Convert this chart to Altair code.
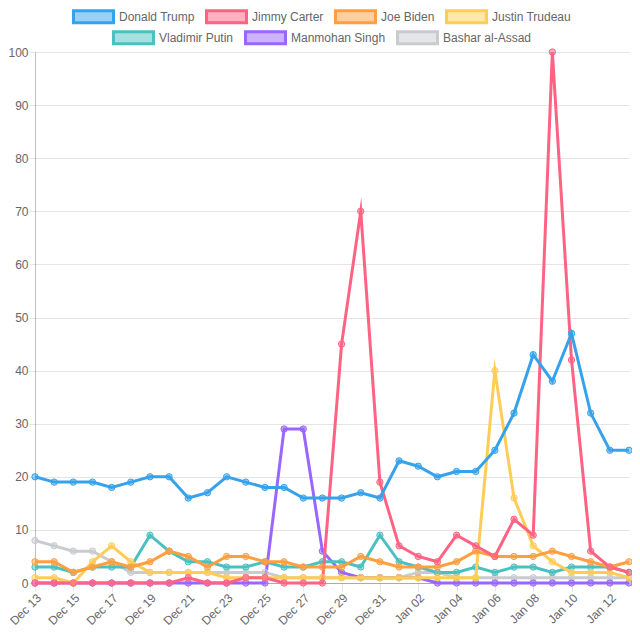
import altair as alt
import pandas as pd

dates = ["Dec 13", "Dec 14", "Dec 15", "Dec 16", "Dec 17", "Dec 18", "Dec 19", "Dec 20",
         "Dec 21", "Dec 22", "Dec 23", "Dec 24", "Dec 25", "Dec 26", "Dec 27", "Dec 28",
         "Dec 29", "Dec 30", "Dec 31", "Jan 01", "Jan 02", "Jan 03", "Jan 04", "Jan 05",
         "Jan 06", "Jan 07", "Jan 08", "Jan 09", "Jan 10", "Jan 11", "Jan 12", "Jan 13"]

trump = [20, 19, 19, 19, 18, 19, 20, 20, 16, 17, 20, 19, 18, 18, 16, 16,
         16, 17, 16, 23, 22, 20, 21, 21, 25, 32, 43, 38, 47, 32, 25, 25]
carter = [0, 0, 0, 0, 0, 0, 0, 0, 1, 0, 0, 1, 1, 0, 0, 0,
          45, 70, 19, 7, 5, 4, 9, 7, 5, 12, 9, 100, 42, 6, 3, 2]
biden = [4, 4, 2, 3, 4, 3, 4, 6, 5, 3, 5, 5, 4, 4, 3, 3,
         3, 5, 4, 3, 3, 3, 4, 6, 5, 5, 5, 6, 5, 4, 3, 4]
trudeau = [1, 1, 0, 4, 7, 4, 2, 2, 2, 2, 1, 1, 1, 1, 1, 1,
           1, 1, 1, 1, 1, 1, 1, 1, 40, 16, 7, 4, 2, 2, 2, 1]
putin = [3, 3, 2, 3, 3, 3, 9, 6, 4, 4, 3, 3, 4, 3, 3, 4,
         4, 3, 9, 4, 3, 2, 2, 3, 2, 3, 3, 2, 3, 3, 3, 2]
singh = [0, 0, 0, 0, 0, 0, 0, 0, 0, 0, 0, 0, 0, 29, 29, 6,
         2, 1, 1, 1, 1, 0, 0, 0, 0, 0, 0, 0, 0, 0, 0, 0]
assad = [8, 7, 6, 6, 4, 2, 2, 2, 2, 2, 2, 2, 2, 1, 1, 1,
         1, 1, 1, 1, 2, 2, 1, 1, 1, 1, 1, 1, 1, 1, 1, 1]

series_a = ["Donald Trump", "Jimmy Carter", "Joe Biden", "Justin Trudeau"]
colors_a = ["rgb(54,162,235)", "rgb(255,99,132)", "rgb(255,159,64)", "rgb(255,205,86)"]
fills_a = ["rgba(54,162,235,0.5)", "rgba(255,99,132,0.5)", "rgba(255,159,64,0.5)", "rgba(255,205,86,0.5)"]
series_b = ["Vladimir Putin", "Manmohan Singh", "Bashar al-Assad"]
colors_b = ["rgb(75,192,192)", "rgb(153,102,255)", "rgb(201,203,207)"]
fills_b = ["rgba(75,192,192,0.5)", "rgba(153,102,255,0.5)", "rgba(201,203,207,0.5)"]

values = {
    "Donald Trump": trump, "Jimmy Carter": carter, "Joe Biden": biden,
    "Justin Trudeau": trudeau, "Vladimir Putin": putin,
    "Manmohan Singh": singh, "Bashar al-Assad": assad,
}

FONT = "Liberation Sans"
BOX = "M-1,-0.3H1V0.3H-1Z"


def frame(names):
    rows = []
    for name in reversed(names):
        for i, (d, v) in enumerate(zip(dates, values[name])):
            rows.append({"idx": i, "date": d, "name": name, "value": v})
    return pd.DataFrame(rows)


x_enc = alt.X(
    "date:O",
    scale=alt.Scale(type="point", padding=0, domain=dates),
    axis=alt.Axis(values=dates[::2], labelAngle=315, labelAlign="right",
                  labelBaseline="top", labelPadding=1, tickSize=8, title=None),
)
y_enc = alt.Y(
    "value:Q",
    scale=alt.Scale(domain=[0, 100], nice=False),
    axis=alt.Axis(values=list(range(0, 101, 10)), tickSize=6, labelPadding=1, title=None),
)


def group(names, colors, fills, lx, ly):
    df = frame(names)
    sc = alt.Scale(domain=names, range=colors)
    sf = alt.Scale(domain=names, range=fills)
    leg = alt.Legend(
        orient="none", legendX=lx, legendY=ly, direction="horizontal", title=None,
        symbolType=BOX, symbolSize=1600, symbolStrokeWidth=3,
        labelOffset=4, columnPadding=5, padding=0,
        labelFont=FONT, labelFontSize=12, labelColor="#666",
    )
    base = alt.Chart(df).encode(x=x_enc, y=y_enc, order=alt.Order("idx:Q"))
    line = base.mark_line(strokeWidth=3, strokeJoin="miter", strokeMiterLimit=10).encode(
        color=alt.Color("name:N", scale=sc, legend=leg)
    )
    pts = base.mark_point(filled=False, size=40, strokeWidth=1, opacity=1).encode(
        color=alt.Color("name:N", scale=sc, legend=leg),
        fill=alt.Fill("name:N", scale=sf, legend=leg),
    )
    return alt.layer(line, pts)


chart = (
    alt.layer(group(series_b, colors_b, fills_b, 77, -36),
              group(series_a, colors_a, fills_a, 37, -57))
    .resolve_scale(color="independent", fill="independent")
    .properties(
        width=594, height=531,
        padding={"left": 27, "top": 44, "right": 3, "bottom": 47},
        autosize=alt.AutoSizeParams(type="none"),
    )
    .configure_view(strokeWidth=0)
    .configure_axis(
        labelFont=FONT, labelFontSize=12, labelColor="#666",
        gridColor="rgba(0,0,0,0.1)", tickColor="rgba(0,0,0,0.1)",
        domainColor="rgba(0,0,0,0.25)",
    )
)

chart.save("out.html", embed_options={"renderer": "svg", "actions": False})
